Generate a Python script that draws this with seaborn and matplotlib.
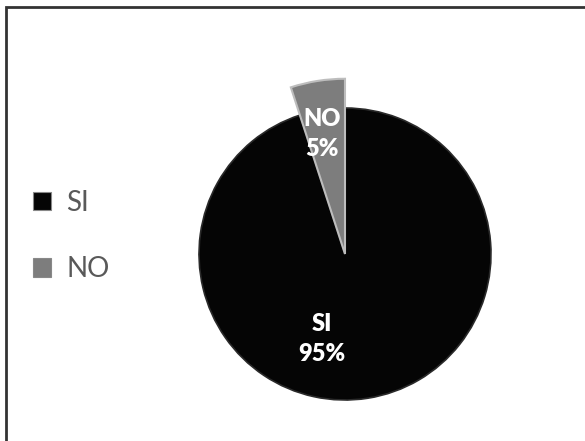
import matplotlib
matplotlib.use("Agg")
import matplotlib.pyplot as plt
import seaborn as sns
from matplotlib.patches import Rectangle, Patch

sns.set_theme(style="white")
plt.rcParams["font.family"] = ["Lato", "DejaVu Sans"]

categories = ["SI", "NO"]
percentages = [95, 5]
colors = ["#050505", "#7d7d7d"]

fig = plt.figure(figsize=(5.85, 4.41), dpi=100)
ax = fig.add_axes([0, 0, 1, 1])

cx, cy, r = 345, 441 - 254, 146
wedges, _ = ax.pie(
    percentages,
    colors=colors,
    startangle=90,
    counterclock=False,
    explode=[0, 0.03],
    center=(cx, cy),
    radius=r,
    wedgeprops=dict(linewidth=1.2),
    frame=True,
)
ax.set_xlim(0, 585)
ax.set_ylim(0, 441)
ax.set_aspect("equal")
ax.axis("off")
wedges[0].set_edgecolor("#2a2a2a")
wedges[1].set_edgecolor("#bdbdbd")
wedges[1].set_linewidth(1.5)
# the small slice stands out above the disc
wedges[1].set_radius(r * 1.2)

# value labels inside the slices
label_pos = {"SI": (322, 441 - 339), "NO": (322, 441 - 134)}
for cat, pct in zip(categories, percentages):
    x, y = label_pos[cat]
    ax.text(x, y, f"{cat}\n{pct}%", ha="center", va="center", color="white",
            fontsize=17, fontweight="heavy", linespacing=1.45, zorder=5)

handles = [Patch(facecolor=c, edgecolor="#888888", linewidth=0.8) for c in colors]
leg = fig.legend(handles, categories, loc="center left",
                 bbox_to_anchor=(22 / 585, 1 - 236 / 441),
                 frameon=False, fontsize=20, handlelength=0.65, handleheight=0.65,
                 handletextpad=0.55, labelspacing=1.45, borderaxespad=0)
for t in leg.get_texts():
    t.set_color("#595959")

# chart frame
fig.patches.append(Rectangle((6 / 585, -0.1), 1.2, (441 - 6) / 441 + 0.1 - 1.5 / 441,
                             transform=fig.transFigure, fill=False,
                             edgecolor="#333333", linewidth=2))

fig.savefig("out.png", dpi=100, facecolor="white")
